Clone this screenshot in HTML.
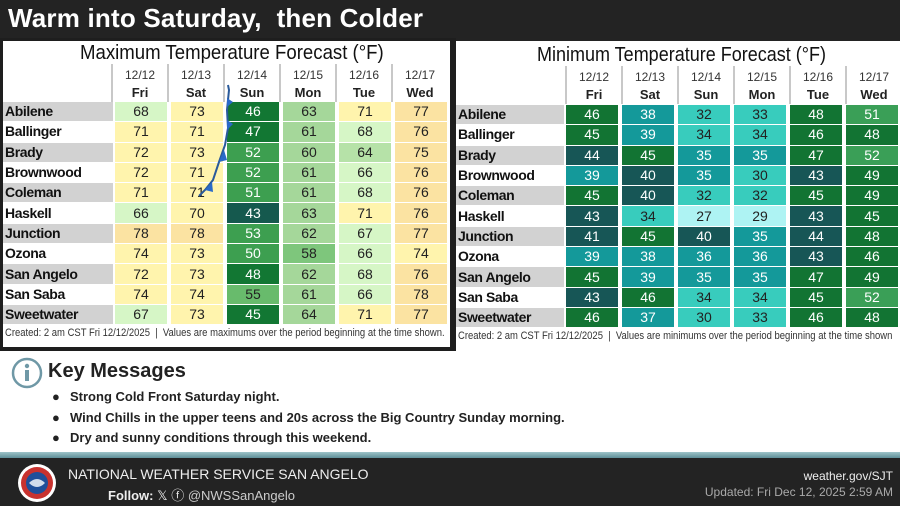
<!DOCTYPE html>
<html><head><meta charset="utf-8"><style>
*{margin:0;padding:0;box-sizing:border-box}
body{width:900px;height:506px;overflow:hidden;background:#fff;font-family:"Liberation Sans",sans-serif;position:relative}
.abs{position:absolute}
.top{left:0;top:0;width:900px;height:41px;background:#232323}
.top h1{position:absolute;left:8px;top:3px;color:#fff;font-size:26px;font-weight:bold;letter-spacing:0.2px;white-space:pre}
.lp{left:0;top:38px;width:456px;height:313px;background:#1e1e1e}
.lpi{left:3px;top:41px;width:447px;height:306px;background:#fff}
.rp{left:452px;top:38px;width:4px;height:313px;background:#1e1e1e}
.rpi{left:456px;top:41px;width:444px;height:310px;background:#fff}
.ttl{font-size:20px;color:#111;white-space:nowrap;transform-origin:0 0}
.hd{text-align:center;color:#222;border-left:2px solid #c8c8c8}
.hd .d{font-size:12px;color:#333;line-height:18px;padding-top:2px}
.hd .w{font-size:13px;font-weight:bold;line-height:18px}
table{position:absolute;border-collapse:separate;border-spacing:0;table-layout:fixed}
td{height:20.3px;text-align:center;font-size:14px;border-left:2px solid #fff;border-right:2px solid #fff;border-bottom:1px solid #fff;padding:0;line-height:19px}
td.n{text-align:left;font-weight:bold;font-size:14px;letter-spacing:-0.4px;color:#111;border:none;padding-left:2px;border-bottom:1px solid #fff;white-space:nowrap;overflow:hidden}
tr.g td.n{background:#d2d2d2}
.o{background:#fbe3a2;color:#222}.y{background:#fff4ad;color:#222}.lg{background:#d6f6c6;color:#222}.lg2{background:#b6e2a8;color:#222}
.mg{background:#a5d79a;color:#222}.mg2{background:#7ec67c;color:#222}.g5{background:#68bb6c;color:#222}.g1{background:#3d9f50;color:#fff}.g0{background:#127733;color:#fff}.dt{background:#15594e;color:#fff}
.c27{background:#aef3f3;color:#222}.c30{background:#38ccbd;color:#222}.c35{background:#14999a;color:#fff}.c40{background:#175656;color:#fff}.c45{background:#127433;color:#fff}.c51{background:#3a9f57;color:#fff}
.cr{font-size:11px;color:#333;white-space:nowrap;transform-origin:0 0;transform:scaleX(0.86)}
.km{left:48px;top:360px;font-size:20px;font-weight:bold;color:#222}
.bl{left:52px;font-size:13px;font-weight:bold;color:#222;white-space:nowrap}
.bl span{display:inline-block;width:18px}
.ft{left:0;top:458px;width:900px;height:48px;background:#232323}
.fl{left:0;top:452px;width:900px;height:6px;background:linear-gradient(#9ec4c9,#5e8f98)}
</style></head><body>
<div class="abs top"><h1>Warm into Saturday,  then Colder</h1></div>
<div class="abs lp"></div><div class="abs lpi"></div>
<div class="abs rp"></div><div class="abs rpi"></div>

<div class="abs ttl" style="left:80px;top:42px;transform:scaleX(0.93)">Maximum Temperature Forecast (°F)</div>
<div class="abs" style="left:111px;top:64px;display:flex">
<div class="hd" style="width:56px"><div class="d">12/12</div><div class="w">Fri</div></div>
<div class="hd" style="width:56px"><div class="d">12/13</div><div class="w">Sat</div></div>
<div class="hd" style="width:56px"><div class="d">12/14</div><div class="w">Sun</div></div>
<div class="hd" style="width:56px"><div class="d">12/15</div><div class="w">Mon</div></div>
<div class="hd" style="width:56px"><div class="d">12/16</div><div class="w">Tue</div></div>
<div class="hd" style="width:56px"><div class="d">12/17</div><div class="w">Wed</div></div>
</div>
<table style="left:3px;top:102px;width:446px">
<colgroup><col style="width:110px"><col style="width:56px"><col style="width:56px"><col style="width:56px"><col style="width:56px"><col style="width:56px"><col style="width:56px"></colgroup>
<tr class="g"><td class="n">Abilene</td><td class="lg">68</td><td class="y">73</td><td class="g0">46</td><td class="mg">63</td><td class="y">71</td><td class="o">77</td></tr>
<tr><td class="n">Ballinger</td><td class="y">71</td><td class="y">71</td><td class="g0">47</td><td class="mg">61</td><td class="lg">68</td><td class="o">76</td></tr>
<tr class="g"><td class="n">Brady</td><td class="y">72</td><td class="y">73</td><td class="g1">52</td><td class="mg">60</td><td class="lg2">64</td><td class="o">75</td></tr>
<tr><td class="n">Brownwood</td><td class="y">72</td><td class="y">71</td><td class="g1">52</td><td class="mg">61</td><td class="lg">66</td><td class="o">76</td></tr>
<tr class="g"><td class="n">Coleman</td><td class="y">71</td><td class="y">71</td><td class="g1">51</td><td class="mg">61</td><td class="lg">68</td><td class="o">76</td></tr>
<tr><td class="n">Haskell</td><td class="lg">66</td><td class="y">70</td><td class="dt">43</td><td class="mg">63</td><td class="y">71</td><td class="o">76</td></tr>
<tr class="g"><td class="n">Junction</td><td class="o">78</td><td class="o">78</td><td class="g1">53</td><td class="mg">62</td><td class="lg">67</td><td class="o">77</td></tr>
<tr><td class="n">Ozona</td><td class="y">74</td><td class="y">73</td><td class="g1">50</td><td class="mg2">58</td><td class="lg">66</td><td class="y">74</td></tr>
<tr class="g"><td class="n">San Angelo</td><td class="y">72</td><td class="y">73</td><td class="g0">48</td><td class="mg">62</td><td class="lg">68</td><td class="o">76</td></tr>
<tr><td class="n">San Saba</td><td class="y">74</td><td class="y">74</td><td class="g5">55</td><td class="mg">61</td><td class="lg">66</td><td class="o">78</td></tr>
<tr class="g"><td class="n">Sweetwater</td><td class="lg">67</td><td class="y">73</td><td class="g0">45</td><td class="mg">64</td><td class="y">71</td><td class="o">77</td></tr>
</table>
<div class="abs cr" style="left:5px;top:327px">Created: 2 am CST Fri 12/12/2025&nbsp; | &nbsp;Values are maximums over the period beginning at the time shown.</div>
<svg class="abs" style="left:0;top:0" width="460" height="350"><polyline points="199,196 205,190 213,180 219,162 225,145 228,128 227,110 229,90 228,85" fill="none" stroke="#2a5a9a" stroke-width="2"/>
<polygon points="205,190 212,182 213,192" fill="#2a6ac8"/><polygon points="219,162 224,150 227,160" fill="#2a6ac8"/><polygon points="227,120 227,130 233,124" fill="#2a6ac8"/><polygon points="227,98 227,107 233,102" fill="#2a6ac8"/></svg>

<div class="abs ttl" style="left:537px;top:44px;transform:scaleX(0.9)">Minimum Temperature Forecast (°F)</div>
<div class="abs" style="left:565px;top:66px;display:flex">
<div class="hd" style="width:56px"><div class="d">12/12</div><div class="w">Fri</div></div>
<div class="hd" style="width:56px"><div class="d">12/13</div><div class="w">Sat</div></div>
<div class="hd" style="width:56px"><div class="d">12/14</div><div class="w">Sun</div></div>
<div class="hd" style="width:56px"><div class="d">12/15</div><div class="w">Mon</div></div>
<div class="hd" style="width:56px"><div class="d">12/16</div><div class="w">Tue</div></div>
<div class="hd" style="width:56px"><div class="d">12/17</div><div class="w">Wed</div></div>
</div>
<table style="left:456px;top:105px;width:444px">
<colgroup><col style="width:108px"><col style="width:56px"><col style="width:56px"><col style="width:56px"><col style="width:56px"><col style="width:56px"><col style="width:56px"></colgroup>
<tr class="g"><td class="n">Abilene</td><td class="c45">46</td><td class="c35">38</td><td class="c30">32</td><td class="c30">33</td><td class="c45">48</td><td class="c51">51</td></tr>
<tr><td class="n">Ballinger</td><td class="c45">45</td><td class="c35">39</td><td class="c30">34</td><td class="c30">34</td><td class="c45">46</td><td class="c45">48</td></tr>
<tr class="g"><td class="n">Brady</td><td class="c40">44</td><td class="c45">45</td><td class="c35">35</td><td class="c35">35</td><td class="c45">47</td><td class="c51">52</td></tr>
<tr><td class="n">Brownwood</td><td class="c35">39</td><td class="c40">40</td><td class="c35">35</td><td class="c30">30</td><td class="c40">43</td><td class="c45">49</td></tr>
<tr class="g"><td class="n">Coleman</td><td class="c45">45</td><td class="c40">40</td><td class="c30">32</td><td class="c30">32</td><td class="c45">45</td><td class="c45">49</td></tr>
<tr><td class="n">Haskell</td><td class="c40">43</td><td class="c30">34</td><td class="c27">27</td><td class="c27">29</td><td class="c40">43</td><td class="c45">45</td></tr>
<tr class="g"><td class="n">Junction</td><td class="c40">41</td><td class="c45">45</td><td class="c40">40</td><td class="c35">35</td><td class="c40">44</td><td class="c45">48</td></tr>
<tr><td class="n">Ozona</td><td class="c35">39</td><td class="c35">38</td><td class="c35">36</td><td class="c35">36</td><td class="c40">43</td><td class="c45">46</td></tr>
<tr class="g"><td class="n">San Angelo</td><td class="c45">45</td><td class="c35">39</td><td class="c35">35</td><td class="c35">35</td><td class="c45">47</td><td class="c45">49</td></tr>
<tr><td class="n">San Saba</td><td class="c40">43</td><td class="c45">46</td><td class="c30">34</td><td class="c30">34</td><td class="c45">45</td><td class="c51">52</td></tr>
<tr class="g"><td class="n">Sweetwater</td><td class="c45">46</td><td class="c35">37</td><td class="c30">30</td><td class="c30">33</td><td class="c45">46</td><td class="c45">48</td></tr>
</table>
<div class="abs cr" style="left:458px;top:330px">Created: 2 am CST Fri 12/12/2025&nbsp; | &nbsp;Values are minimums over the period beginning at the time shown</div>

<svg class="abs" style="left:11px;top:357px" width="32" height="32"><circle cx="16" cy="16" r="14" fill="#fff" stroke="#6f98a6" stroke-width="2.5"/><circle cx="16" cy="9" r="2.2" fill="#6f98a6"/><rect x="14" y="13" width="4" height="11" fill="#6f98a6"/></svg>
<div class="abs km">Key Messages</div>
<div class="abs bl" style="top:389px"><span>●</span>Strong Cold Front Saturday night.</div>
<div class="abs bl" style="top:410px"><span>●</span>Wind Chills in the upper teens and 20s across the Big Country Sunday morning.</div>
<div class="abs bl" style="top:430px"><span>●</span>Dry and sunny conditions through this weekend.</div>

<div class="abs fl"></div>
<div class="abs ft"></div>
<svg class="abs" style="left:17px;top:463px" width="40" height="40"><circle cx="20" cy="20" r="19" fill="#fff"/><circle cx="20" cy="20" r="16" fill="#c8322f"/><circle cx="20" cy="20" r="11" fill="#1f4f9a"/><path d="M12 20 Q20 12 28 20 Q20 28 12 20" fill="#fff" opacity=".8"/></svg>
<div class="abs" style="left:68px;top:466px;color:#eee;font-size:14px;white-space:nowrap">NATIONAL WEATHER SERVICE SAN ANGELO</div>
<div class="abs" style="left:108px;top:485px;color:#eee;font-size:13px;white-space:nowrap"><b>Follow:</b> 𝕏 ⓕ <span style="color:#ccc">@NWSSanAngelo</span></div>
<div class="abs" style="right:7px;top:469px;color:#eee;font-size:12px;white-space:nowrap;text-align:right">weather.gov/SJT</div>
<div class="abs" style="right:7px;top:485px;color:#aaa;font-size:12px;white-space:nowrap;text-align:right">Updated: Fri Dec 12, 2025 2:59 AM</div>
</body></html>
